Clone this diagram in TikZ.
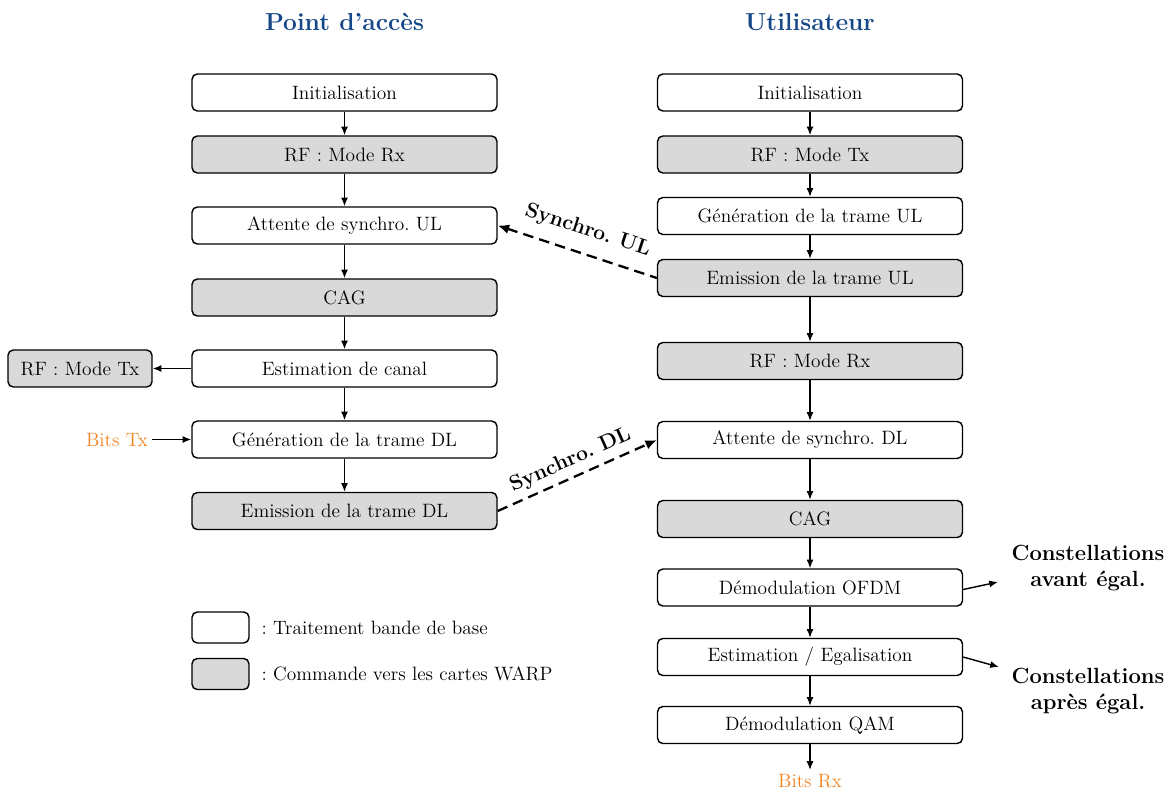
\documentclass[tikz,border=0pt]{standalone}
\usepackage{fontspec}
\usetikzlibrary{arrows.meta}
\definecolor{apblue}{RGB}{22,72,135}
\definecolor{bitorange}{RGB}{242,132,34}
\frenchspacing
\begin{document}
\begin{tikzpicture}[x=0.02cm, y=-0.02cm, >={Latex[length=5pt,width=4pt]},
  line width=0.8pt, font=\fontsize{11}{13}\selectfont,
  bloc/.style={draw, rounded corners=3pt, minimum width=6.1cm,
               minimum height=0.74cm, align=center, fill=#1},
  bloc/.default=white,
  petit/.style={draw, rounded corners=3pt, minimum width=1.14cm,
                minimum height=0.62cm, fill=#1},
  titre/.style={font=\fontsize{14}{16}\selectfont\bfseries, text=apblue},
  synchro/.style={font=\fontsize{12}{14}\selectfont\bfseries, sloped},
  tirets/.style={line width=1.3pt, dash pattern=on 6pt off 3.5pt,
                 >={Latex[length=6.5pt,width=5.5pt]}},
  sortie/.style={font=\fontsize{12.5}{14.7}\selectfont\bfseries, align=center},
  bits/.style={text=bitorange, inner sep=2pt}
]
  \useasboundingbox (0,0) rectangle (1176,792);
  \node[titre] (aptitre) at (344.5,22) {Point d'accès};
  \node[titre] (ustitre) at (810,22) {Utilisateur};
  \node[bloc]         (apinit) at (344.5,92.5) {Initialisation};
  \node[bloc=gray!30] (aprx)   at (344.5,154.5) {RF : Mode Rx};
  \node[bloc]         (apsync) at (344.5,225.5) {Attente de synchro. UL};
  \node[bloc=gray!30] (apcag)  at (344.5,297.5) {CAG};
  \node[bloc]         (apest)  at (344.5,368.5) {Estimation de canal};
  \node[bloc]         (apgen)  at (344.5,439.5) {Génération de la trame DL};
  \node[bloc=gray!30] (apem)   at (344.5,511) {Emission de la trame DL};
  \node[bloc=gray!30, minimum width=2.88cm] (aptx) at (80,368.5) {RF : Mode Tx};
  \node[bits] (bitstx) at (117,439.5) {Bits Tx};
  \draw[->] (apinit)--(aprx);
  \draw[->] (aprx)--(apsync);
  \draw[->] (apsync)--(apcag);
  \draw[->] (apcag)--(apest);
  \draw[->] (apest)--(apgen);
  \draw[->] (apgen)--(apem);
  \draw[->] (apest)--(aptx);
  \draw[->] (bitstx)--(apgen);
  \node[bloc]         (usinit) at (810,92.5) {Initialisation};
  \node[bloc=gray!30] (ustx)   at (810,154.5) {RF : Mode Tx};
  \node[bloc]         (usgen)  at (810,216) {Génération de la trame UL};
  \node[bloc=gray!30] (usem)   at (810,278) {Emission de la trame UL};
  \node[bloc=gray!30] (usrx)   at (810,361) {RF : Mode Rx};
  \node[bloc]         (ussync) at (810,440) {Attente de synchro. DL};
  \node[bloc=gray!30] (uscag)  at (810,519) {CAG};
  \node[bloc]         (usofdm) at (810,587.5) {Démodulation OFDM};
  \node[bloc]         (useq)   at (810,657) {Estimation / Egalisation};
  \node[bloc]         (usqam)  at (810,725) {Démodulation QAM};
  \node[bits] (bitsrx) at (810,781) {Bits Rx};
  \draw[->] (usinit)--(ustx);
  \draw[->] (ustx)--(usgen);
  \draw[->] (usgen)--(usem);
  \draw[->] (usem)--(usrx);
  \draw[->] (usrx)--(ussync);
  \draw[->] (ussync)--(uscag);
  \draw[->] (uscag)--(usofdm);
  \draw[->] (usofdm)--(useq);
  \draw[->] (useq)--(usqam);
  \draw[->] (usqam)--(bitsrx);
  \draw[<-, tirets]
    (apsync.east) -- node[synchro, above=4pt, pos=0.52] {Synchro. UL} (usem.west);
  \draw[->, tirets]
    (apem.east) -- node[synchro, above=0pt, pos=0.5] {Synchro. DL} (ussync.west);
  \node[sortie] (consta) at (1088,568) {Constellations\\avant égal.};
  \node[sortie] (constb) at (1088,691) {Constellations\\après égal.};
  \coordinate (fa) at (998,582);
  \coordinate (fb) at (999,667);
  \draw[->] (usofdm.east)+(0,2) -- (fa);
  \draw[->] (useq.east) -- (fb);
  \node[petit=white]   (legbb)   at (220.5,627.5) {};
  \node[petit=gray!30] (legwarp) at (220.5,674) {};
  \node[anchor=west] (txtbb)   at (255,627.5) {: Traitement bande de base};
  \node[anchor=west] (txtwarp) at (255,674) {: Commande vers les cartes WARP};
\end{tikzpicture}
\end{document}
